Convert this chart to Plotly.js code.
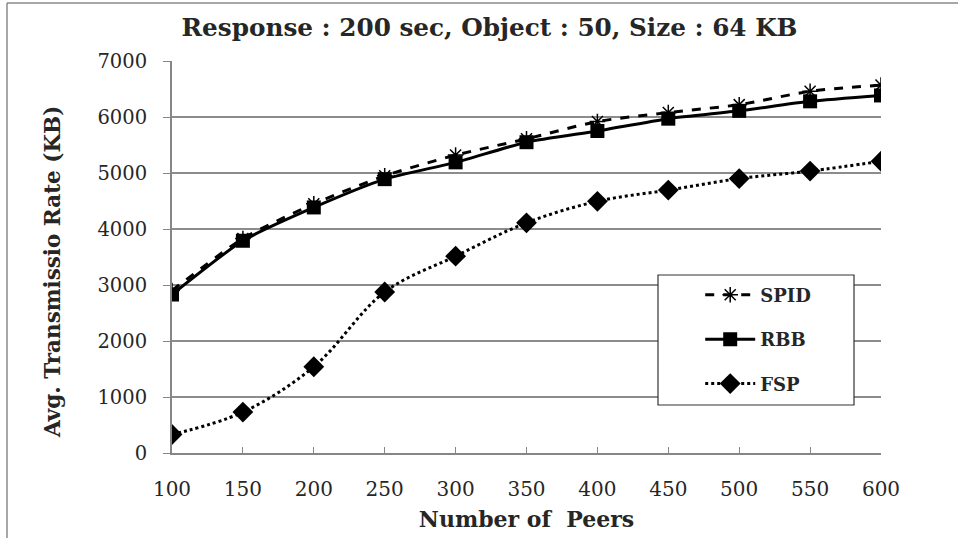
<!DOCTYPE html>
<html>
<head>
<meta charset="utf-8">
<script src="https://cdn.plot.ly/plotly-3.0.1.min.js"></script>
<style>
html,body{margin:0;padding:0;background:#fff;}
#chart{width:958px;height:538px;}
</style>
</head>
<body>
<div id="chart"></div>
<script>
var peers = [100, 150, 200, 250, 300, 350, 400, 450, 500, 550, 600];
var spid = [2900, 3830, 4450, 4950, 5320, 5610, 5920, 6080, 6220, 6460, 6570];
var rbb  = [2830, 3790, 4385, 4890, 5190, 5550, 5750, 5970, 6110, 6280, 6385];
var fsp  = [330, 730, 1540, 2875, 3515, 4110, 4495, 4695, 4900, 5035, 5210];
var seriesNames = ["SPID", "RBB", "FSP"];
var yTicks = [0, 1000, 2000, 3000, 4000, 5000, 6000, 7000];
var xTicks = [100, 150, 200, 250, 300, 350, 400, 450, 500, 550, 600];

var FONT = "DejaVu Serif, serif";
var TXT = "#262626";

var traces = [
  {x: peers, y: spid, name: "<b>" + seriesNames[0] + "</b>", mode: "lines+markers", legendgroup: "a",
   line: {color: "#000", width: 3, dash: "dash", shape: "spline", smoothing: 0.6},
   marker: {symbol: "asterisk-open", size: 13, color: "#000", line: {color: "#000", width: 1.5}}},
  {x: peers, y: rbb, name: "<b>" + seriesNames[1] + "</b>", mode: "lines+markers", legendgroup: "b",
   line: {color: "#000", width: 3, dash: "solid", shape: "spline", smoothing: 0.6},
   marker: {symbol: "square", size: 14, color: "#000"}},
  {x: peers, y: fsp, name: "<b>" + seriesNames[2] + "</b>", mode: "lines+markers", legendgroup: "c",
   line: {color: "#000", width: 3, dash: "dot", shape: "spline", smoothing: 1},
   marker: {symbol: "diamond", size: 16, color: "#000"}}
];

var layout = {
  width: 958, height: 538,
  paper_bgcolor: "#fff", plot_bgcolor: "#fff",
  margin: {l: 172, r: 77, t: 61, b: 85, pad: 0},
  font: {family: FONT, color: TXT, size: 19},
  title: {text: "<b>Response : 200 sec, Object : 50, Size : 64 KB</b>",
          font: {family: FONT, size: 24.7, color: TXT}, x: 0.511, xanchor: "center", y: 0.949, yanchor: "middle"},
  xaxis: {range: [100, 600], tickvals: xTicks, ticktext: xTicks.map(String),
          showgrid: false, zeroline: false, showline: true, linecolor: "#868686", linewidth: 2,
          ticks: "inside", ticklen: 6, tickcolor: "#868686", tickwidth: 1,
          tickfont: {family: FONT, size: 20, color: TXT}, ticklabelstandoff: 17,
          title: {text: "<b>Number of\u00a0 Peers</b>", font: {family: FONT, size: 22, color: TXT}, standoff: 12}},
  yaxis: {range: [0, 7000], tickvals: yTicks, ticktext: yTicks.map(String),
          showgrid: true, gridcolor: "#8c8c8c", gridwidth: 1.5, zeroline: false,
          showline: true, linecolor: "#868686", linewidth: 2,
          ticks: "outside", ticklen: 7, tickcolor: "#868686", tickwidth: 1,
          tickfont: {family: FONT, size: 19.5, color: TXT}, ticklabelstandoff: 12},
  annotations: [
    {text: "<b>Avg. Transmissio Rate (KB)</b>", xref: "paper", yref: "paper",
     x: (52.5-172)/709, y: (453-272.5)/392, xanchor: "center", yanchor: "middle",
     textangle: -90, showarrow: false, font: {family: FONT, size: 21.5, color: TXT}}
  ],
  showlegend: true,
  legend: {x: 0.745, xanchor: "left", y: 0.45, yanchor: "top", bgcolor: "rgba(0,0,0,0)",
           borderwidth: 0, traceorder: "grouped", tracegroupgap: 18, itemwidth: 50,
           font: {family: FONT, size: 18, color: TXT}},
  shapes: [
    {type: "rect", xref: "paper", yref: "paper", x0: (658-172)/709, x1: (854-172)/709,
     y0: (453-405)/392, y1: (453-275)/392, line: {color: "#333", width: 1.2}, fillcolor: "#fff", layer: "above"},
    {type: "line", xref: "paper", yref: "paper", x0: (7-172)/709, x1: (7-172)/709,
     y0: -0.3, y1: (453-3)/392, line: {color: "#8a8a8a", width: 1.5}},
    {type: "line", xref: "paper", yref: "paper", x0: (7-172)/709, x1: (958-172)/709,
     y0: (453-3)/392, y1: (453-3)/392, line: {color: "#8a8a8a", width: 1.5}}
  ]
};

Plotly.newPlot("chart", traces, layout, {displayModeBar: false, staticPlot: true});
</script>
</body>
</html>
